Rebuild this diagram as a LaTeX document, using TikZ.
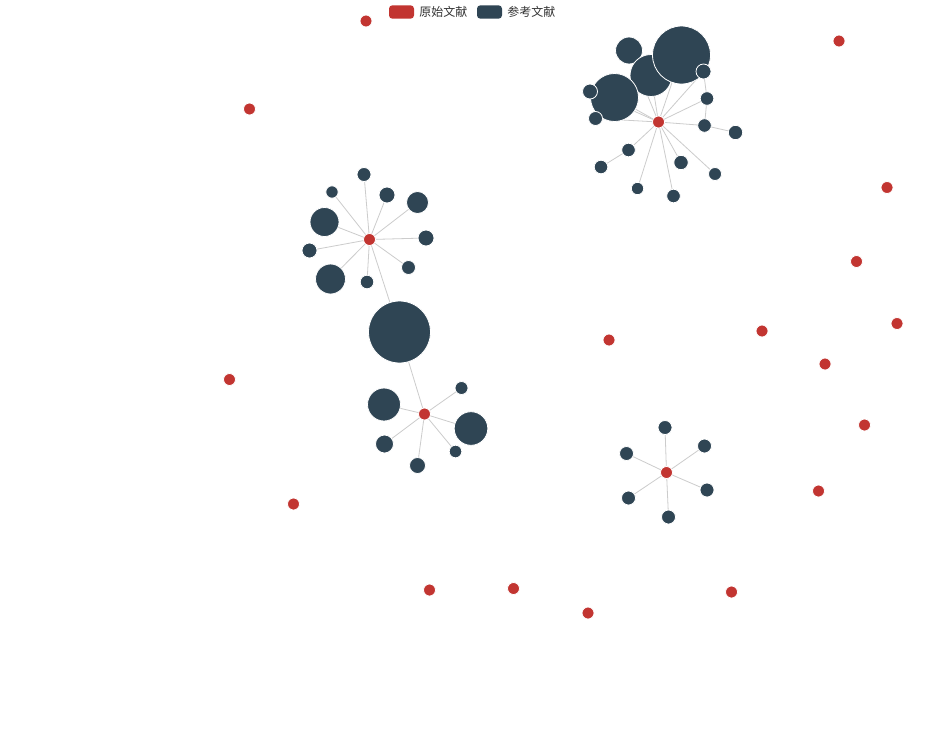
\documentclass[tikz,border=0pt]{standalone}
\usepackage{fontspec}
\newfontfamily\cjk{Noto Sans CJK SC}
\usetikzlibrary{backgrounds}
\pgfdeclarelayer{paper}
\pgfsetlayers{paper,background,main}
\definecolor{rd}{HTML}{C23531}
\definecolor{dk}{HTML}{2F4554}
\definecolor{ln}{HTML}{CCCCCC}
\definecolor{tx}{HTML}{333333}
\tikzset{
  dnode/.style={circle, fill=dk, draw=white, line width=0.6pt, inner sep=0pt, minimum size=#1*1.5pt},
  rnode/.style={circle, fill=rd, draw=white, line width=0.6pt, inner sep=0pt, minimum size=#1*1.5pt},
  edge/.style={draw=ln, line width=0.6pt},
  legbox/.style={fill=#1, rounded corners=2.5pt, minimum width=18.75pt, minimum height=10pt, inner sep=0pt},
  legtext/.style={text=tx, font=\cjk\fontsize{9}{11}\selectfont, anchor=west, inner sep=0pt}
}
\begin{document}
\begin{tikzpicture}[x=0.75pt,y=-0.75pt]
\begin{pgfonlayer}{paper}
\fill[white] (0,0) rectangle (944,750);
\end{pgfonlayer}
\useasboundingbox (0,0) rectangle (944,750);
% legend
\node[legbox=rd] (lg1) at (401.5,12) {};
\node[legtext] (lt1) at (419,12) {原始文献};
\node[legbox=dk] (lg2) at (489.5,12) {};
\node[legtext] (lt2) at (507,12) {参考文献};

% ---------- top-right cluster ----------
\node[dnode=13.5] (t4) at (629,50.5) {};
\node[dnode=21] (t2) at (651,75.5) {};
\node[dnode=29] (t1) at (681.5,55) {};
\node[dnode=24] (t3) at (614.5,97.5) {};
\node[dnode=7.5] (t5) at (703.5,71.5) {};
\node[dnode=7.5] (t6) at (590,91.5) {};
\node[dnode=7] (t7) at (595.5,118.5) {};
\node[dnode=6.8] (t8) at (707,98.5) {};
\node[dnode=6.8] (t9) at (704.5,125.5) {};
\node[dnode=7.2] (t10) at (735.5,132.5) {};
\node[dnode=6.8] (t11) at (628.5,150) {};
\node[dnode=6.8] (t12) at (601,167) {};
\node[dnode=7.2] (t13) at (681,162.5) {};
\node[dnode=6.5] (t14) at (715,174) {};
\node[dnode=6.2] (t15) at (637.5,188.5) {};
\node[dnode=6.8] (t16) at (673.5,196) {};
\node[rnode=6] (tc) at (658.5,122) {};

% ---------- left cluster ----------
\node[dnode=7] (l1) at (364,174.5) {};
\node[dnode=6.2] (l2) at (332,192) {};
\node[dnode=8] (l3) at (387,195) {};
\node[dnode=11] (l4) at (417.5,202.5) {};
\node[dnode=14.5] (l5) at (324.5,222) {};
\node[dnode=8] (l6) at (426,238) {};
\node[dnode=7.5] (l7) at (309.5,250.5) {};
\node[dnode=7] (l8) at (408.5,267.5) {};
\node[dnode=15] (l9) at (330.5,279) {};
\node[dnode=6.8] (l10) at (367,282) {};
\node[rnode=6] (lc) at (369.5,239.5) {};

% ---------- middle ----------
\node[dnode=31] (bg) at (399.5,332) {};

% ---------- bottom cluster ----------
\node[dnode=6.5] (b1) at (461.5,388) {};
\node[dnode=16.5] (b2) at (384,404.5) {};
\node[dnode=16.8] (b3) at (471,428.5) {};
\node[dnode=9] (b4) at (384.5,444) {};
\node[dnode=6.3] (b5) at (455.5,451.5) {};
\node[dnode=8] (b6) at (417.5,465.5) {};
\node[rnode=6] (bc) at (424.5,414) {};

% ---------- bottom-right cluster ----------
\node[dnode=7] (r1) at (665,427.5) {};
\node[dnode=7] (r2) at (704.5,446) {};
\node[dnode=7] (r3) at (626.5,453.5) {};
\node[dnode=7] (r4) at (707,490) {};
\node[dnode=7] (r5) at (628.5,498) {};
\node[dnode=7] (r6) at (668.5,517) {};
\node[rnode=6] (rc) at (666.5,472.5) {};

% ---------- isolated originals ----------
\node[rnode=6] (i1) at (366,21) {};
\node[rnode=6] (i2) at (249.5,109) {};
\node[rnode=6] (i3) at (839,41) {};
\node[rnode=6] (i4) at (887,187.5) {};
\node[rnode=6] (i5) at (856.5,261.5) {};
\node[rnode=6] (i6) at (897,323.5) {};
\node[rnode=6] (i7) at (762,331) {};
\node[rnode=6] (i8) at (609,340) {};
\node[rnode=6] (i9) at (825,364) {};
\node[rnode=6] (i10) at (864.5,425) {};
\node[rnode=6] (i11) at (229.5,379.5) {};
\node[rnode=6] (i12) at (818.5,491) {};
\node[rnode=6] (i13) at (293.5,504) {};
\node[rnode=6] (i14) at (429.5,590) {};
\node[rnode=6] (i15) at (513.5,588.5) {};
\node[rnode=6] (i16) at (588,613) {};
\node[rnode=6] (i17) at (731.5,592) {};

\begin{pgfonlayer}{background}
\foreach \n in {t1,t2,t3,t4,t5,t6,t7,t8,t9,t11,t13,t14,t15,t16}
  \draw[edge] (tc.center) -- (\n.center);
\draw[edge] (t5.center) -- (t8.center);
\draw[edge] (t8.center) -- (t9.center);
\draw[edge] (t9.center) -- (t10.center);
\draw[edge] (t11.center) -- (t12.center);
\foreach \n in {l1,l2,l3,l4,l5,l6,l7,l8,l9,l10,bg}
  \draw[edge] (lc.center) -- (\n.center);
\foreach \n in {b1,b2,b3,b4,b5,b6,bg}
  \draw[edge] (bc.center) -- (\n.center);
\foreach \n in {r1,r2,r3,r4,r5,r6}
  \draw[edge] (rc.center) -- (\n.center);
\end{pgfonlayer}
\end{tikzpicture}
\end{document}
